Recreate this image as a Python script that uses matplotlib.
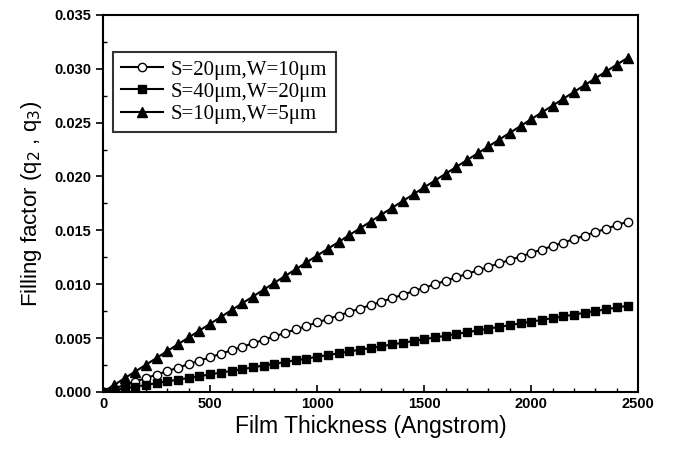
import matplotlib
matplotlib.use("Agg")
import matplotlib.pyplot as plt
from matplotlib.ticker import MultipleLocator, FormatStrFormatter

# Film thickness (Angstrom), one point every 50 A
thickness = list(range(0, 2500, 50))

# S=20um, W=10um  (open circles)
q_s20_w10 = [0, 0.00032, 0.00064, 0.00097, 0.00129, 0.00161, 0.00193, 0.00226, 0.00258, 0.00290,
             0.00322, 0.00355, 0.00387, 0.00419, 0.00451, 0.00484, 0.00516, 0.00548, 0.00580, 0.00613,
             0.00645, 0.00677, 0.00709, 0.00742, 0.00774, 0.00806, 0.00838, 0.00870, 0.00903, 0.00935,
             0.00967, 0.00999, 0.01032, 0.01064, 0.01096, 0.01128, 0.01161, 0.01193, 0.01225, 0.01257,
             0.01290, 0.01322, 0.01354, 0.01386, 0.01419, 0.01451, 0.01483, 0.01515, 0.01548, 0.01580]

# S=40um, W=20um  (filled squares)
q_s40_w20 = [0, 0.00016, 0.00033, 0.00049, 0.00065, 0.00082, 0.00098, 0.00114, 0.00131, 0.00147,
             0.00163, 0.00180, 0.00196, 0.00212, 0.00229, 0.00245, 0.00261, 0.00278, 0.00294, 0.00310,
             0.00327, 0.00343, 0.00359, 0.00376, 0.00392, 0.00408, 0.00424, 0.00441, 0.00457, 0.00473,
             0.00490, 0.00506, 0.00522, 0.00539, 0.00555, 0.00571, 0.00588, 0.00604, 0.00620, 0.00637,
             0.00653, 0.00669, 0.00686, 0.00702, 0.00718, 0.00735, 0.00751, 0.00767, 0.00784, 0.00800]

# S=10um, W=5um  (filled triangles)
q_s10_w5 = [0, 0.00063, 0.00127, 0.00190, 0.00253, 0.00316, 0.00380, 0.00443, 0.00506, 0.00570,
            0.00633, 0.00696, 0.00760, 0.00823, 0.00886, 0.00949, 0.01013, 0.01076, 0.01139, 0.01203,
            0.01266, 0.01329, 0.01392, 0.01456, 0.01519, 0.01582, 0.01646, 0.01709, 0.01772, 0.01835,
            0.01899, 0.01962, 0.02025, 0.02089, 0.02152, 0.02215, 0.02278, 0.02342, 0.02405, 0.02468,
            0.02532, 0.02595, 0.02658, 0.02721, 0.02785, 0.02848, 0.02911, 0.02975, 0.03038, 0.03101]

labels = ["S=20\u03bcm,W=10\u03bcm", "S=40\u03bcm,W=20\u03bcm", "S=10\u03bcm,W=5\u03bcm"]

plt.rcParams["font.family"] = ["Liberation Sans", "DejaVu Sans"]

fig = plt.figure(figsize=(6.74, 4.49), dpi=100)
ax = fig.add_axes([0.153, 0.127, 0.794, 0.840])

ax.plot(thickness, q_s20_w10, "-o", color="black", lw=1.5, ms=6,
        mfc="white", mec="black", mew=1.0, label=labels[0])
ax.plot(thickness, q_s40_w20, "-s", color="black", lw=1.5, ms=5.5,
        mfc="black", label=labels[1])
ax.plot(thickness, q_s10_w5, "-^", color="black", lw=1.5, ms=7.5,
        mfc="black", label=labels[2])

ax.set_xlim(0, 2500)
ax.set_ylim(0, 0.035)
ax.xaxis.set_major_locator(MultipleLocator(500))
ax.xaxis.set_minor_locator(MultipleLocator(100))
ax.yaxis.set_major_locator(MultipleLocator(0.005))
ax.yaxis.set_minor_locator(MultipleLocator(0.0025))
ax.yaxis.set_major_formatter(FormatStrFormatter("%.3f"))

ax.tick_params(axis="x", which="major", direction="in", length=5, width=1.2)
ax.tick_params(axis="x", which="minor", direction="in", length=3, width=1)
ax.tick_params(axis="y", which="major", direction="out", length=5, width=1.2)
ax.tick_params(axis="y", which="minor", direction="in", length=3, width=1)
for lab in ax.get_xticklabels() + ax.get_yticklabels():
    lab.set_fontweight("bold")
    lab.set_fontsize(10.5)

for sp in ax.spines.values():
    sp.set_linewidth(1.5)

ax.set_xlabel("Film Thickness (Angstrom)", fontsize=16.5, labelpad=3)
ax.set_ylabel("Filling factor (q$_2$ , q$_3$)", fontsize=16, labelpad=7)

leg = ax.legend(loc="upper left", bbox_to_anchor=(0.018, 0.902),
                prop={"family": "Liberation Serif", "size": 15},
                frameon=True, fancybox=False, edgecolor="black",
                handlelength=2.0, handletextpad=0.4, borderpad=0.4,
                labelspacing=0.12, borderaxespad=0)
leg.get_frame().set_linewidth(1.5)

fig.savefig("out.png", dpi=100)
